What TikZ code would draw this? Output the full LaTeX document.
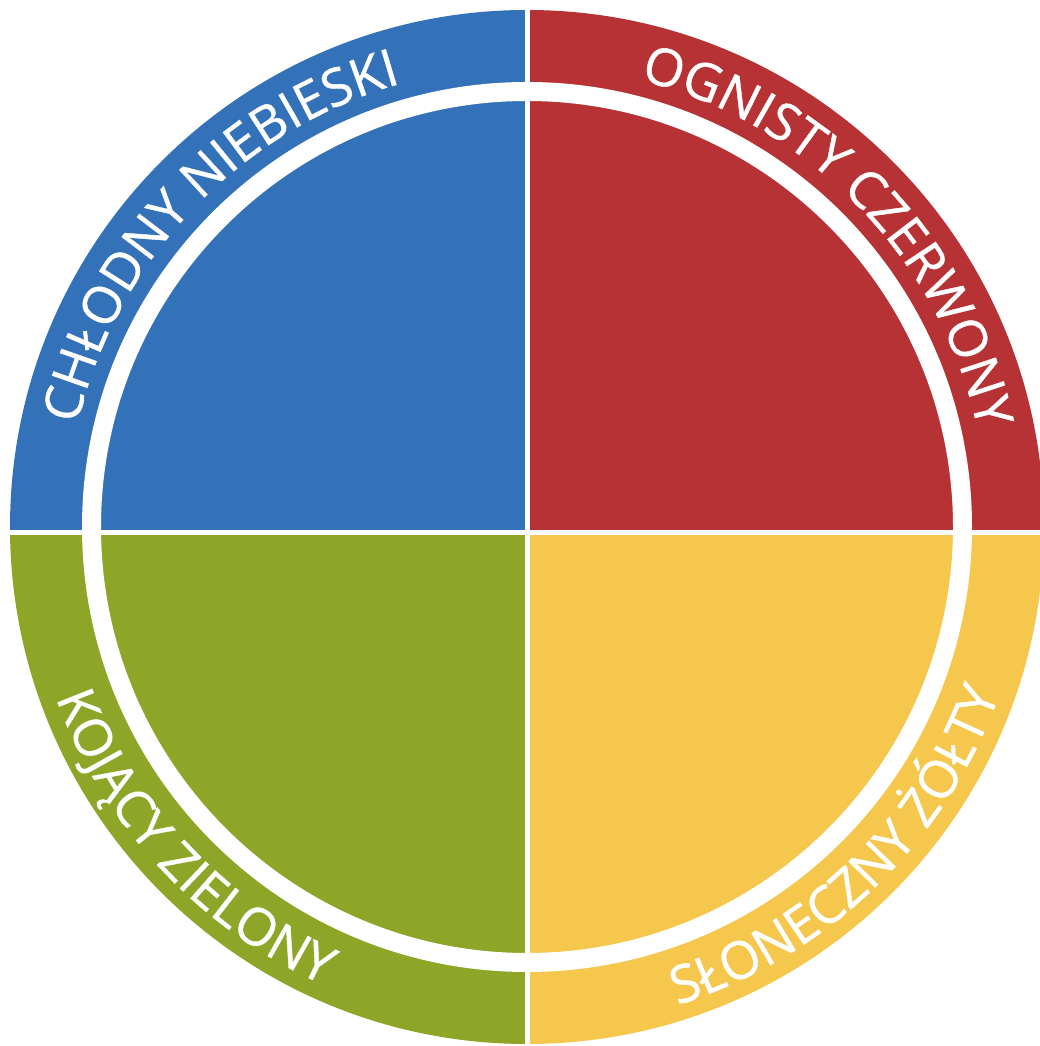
\documentclass[tikz,border=0pt]{standalone}
\usepackage{fontspec}
\setmainfont{Open Sans}
\newfontfamily\ringfont{Open Sans}[UprightFeatures={FakeBold=0.8}]
\usetikzlibrary{decorations.text}
\definecolor{cblue}{RGB}{51,114,185}
\definecolor{cred}{RGB}{183,50,52}
\definecolor{cgreen}{RGB}{141,166,40}
\definecolor{cyellow}{RGB}{245,200,77}
\tikzset{
  ringtext/.style={decorate, decoration={text along path, text align=center,
    text color=white, text format delimiters={|}{|}, text={|\ringfont\fontsize{52}{60}\selectfont|#1}}}
}
\begin{document}
\begin{tikzpicture}[x=1pt,y=1pt]
\useasboundingbox (0,0) rectangle (1040,1046);
\coordinate (C) at (527,519);
\begin{scope}
  \clip (C) circle (517pt);
  \fill[cblue]   (0,513.5) rectangle (527.5,1046);
  \fill[cred]    (527.5,513.5) rectangle (1040,1046);
  \fill[cgreen]  (0,0) rectangle (527.5,513.5);
  \fill[cyellow] (527.5,0) rectangle (1040,513.5);
\end{scope}
\draw[white, line width=19pt] (C) circle (435.5pt);
\draw[white, line width=5pt] (527.5,0) -- (527.5,1046);
\draw[white, line width=5pt] (0,513.5) -- (1040,513.5);
% texts
\path[ringtext={CHŁODNY NIEBIESKI}] (C) ++(177.5:461pt) arc[start angle=177.5, end angle=95.5, radius=461pt];
\path[ringtext={OGNISTY CZERWONY}] (C) ++(85:461pt) arc[start angle=85, end angle=3, radius=461pt];
\path[ringtext={KOJĄCY ZIELONY}] (C) ++(182:501pt) arc[start angle=182, end angle=264, radius=501pt];
\path[ringtext={SŁONECZNY ŻÓŁTY}] (C) ++(273:501pt) arc[start angle=273, end angle=355, radius=501pt];
\end{tikzpicture}
\end{document}
